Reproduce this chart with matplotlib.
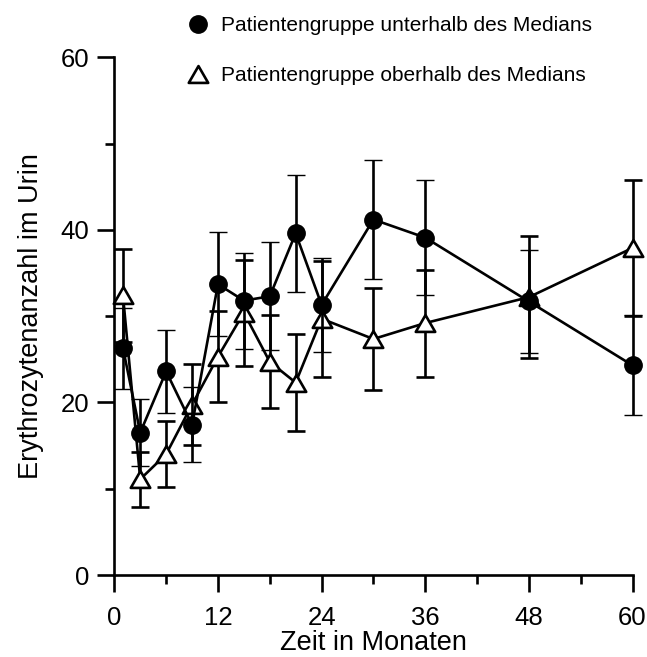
import matplotlib
matplotlib.use("Agg")
import matplotlib.pyplot as plt
from matplotlib.lines import Line2D
from matplotlib.path import Path
from matplotlib.ticker import MultipleLocator

# Erythrozyten im Urin, zwei Patientengruppen (Mittelwert +/- SE)

months = [1, 3, 6, 9, 12, 15, 18, 21, 24, 30, 36, 48, 60]

below = [26.3, 16.5, 23.6, 17.4, 33.7, 31.8, 32.3, 39.6, 31.3, 41.2, 39.1, 31.7, 24.3]
below_err = [4.7, 3.9, 4.8, 4.35, 6.0, 5.55, 6.25, 6.8, 5.4, 6.9, 6.7, 6.0, 5.8]

above = [32.4, 11.1, 14.0, 19.75, 25.3, 30.4, 24.7, 22.3, 29.7, 27.35, 29.2, 32.2, 37.9]
above_err = [5.4, 3.2, 3.85, 4.65, 5.3, 6.15, 5.4, 5.6, 6.7, 5.95, 6.2, 7.05, 7.9]

label_below = "Patientengruppe unterhalb des Medians"
label_above = "Patientengruppe oberhalb des Medians"

plt.rcParams["font.family"] = ["Liberation Sans", "DejaVu Sans"]

LW = 1.9

# gleichseitiges Dreieck statt des matplotlib-"^"
tri = Path([(-1, -0.866), (1, -0.866), (0, 0.866), (-1, -0.866)],
           [Path.MOVETO, Path.LINETO, Path.LINETO, Path.CLOSEPOLY])

fig = plt.figure(figsize=(6.47, 6.57), dpi=100)
ax = fig.add_axes([0.1767, 0.1248, 0.8009, 0.788])

err_kw = dict(color="black", lw=LW, elinewidth=LW, capsize=6.4, capthick=LW)

c1 = ax.errorbar(months, above, yerr=above_err, marker=tri, ms=14, mfc="white",
                 mec="black", mew=LW, zorder=2, **err_kw)
c2 = ax.errorbar(months, below, yerr=below_err, marker="o", ms=12.5, mfc="black",
                 mec="black", mew=1, zorder=3, **err_kw)

for c in (c1, c2):
    for a in c.get_children():
        a.set_clip_on(False)

ax.set_xlim(0, 60)
ax.set_ylim(0, 60)
ax.xaxis.set_major_locator(MultipleLocator(12))
ax.xaxis.set_minor_locator(MultipleLocator(6))
ax.yaxis.set_major_locator(MultipleLocator(20))
ax.yaxis.set_minor_locator(MultipleLocator(10))

for s in ("top", "right"):
    ax.spines[s].set_visible(False)
for s in ("left", "bottom"):
    ax.spines[s].set_linewidth(LW)

ax.tick_params(which="major", length=12.2, width=LW, labelsize=18.5)
ax.tick_params(axis="x", which="major", pad=10)
ax.tick_params(axis="y", which="major", pad=6)
ax.tick_params(which="minor", length=6.5, width=LW)

ax.set_xlabel("Zeit in Monaten", fontsize=19.5, labelpad=0)
ax.set_ylabel("Erythrozytenanzahl im Urin", fontsize=19.5, labelpad=12)

handles = [
    Line2D([], [], ls="none", marker="o", ms=12.5, mfc="black", mec="black"),
    Line2D([], [], ls="none", marker=tri, ms=14, mfc="white", mec="black", mew=LW),
]
fig.legend(handles, [label_below, label_above], loc="center left",
           bbox_to_anchor=(0.29, 0.923), frameon=False, fontsize=15,
           handlelength=1.0, handletextpad=0.6, labelspacing=1.5,
           borderpad=0, borderaxespad=0)

fig.savefig("out.png", dpi=100)
